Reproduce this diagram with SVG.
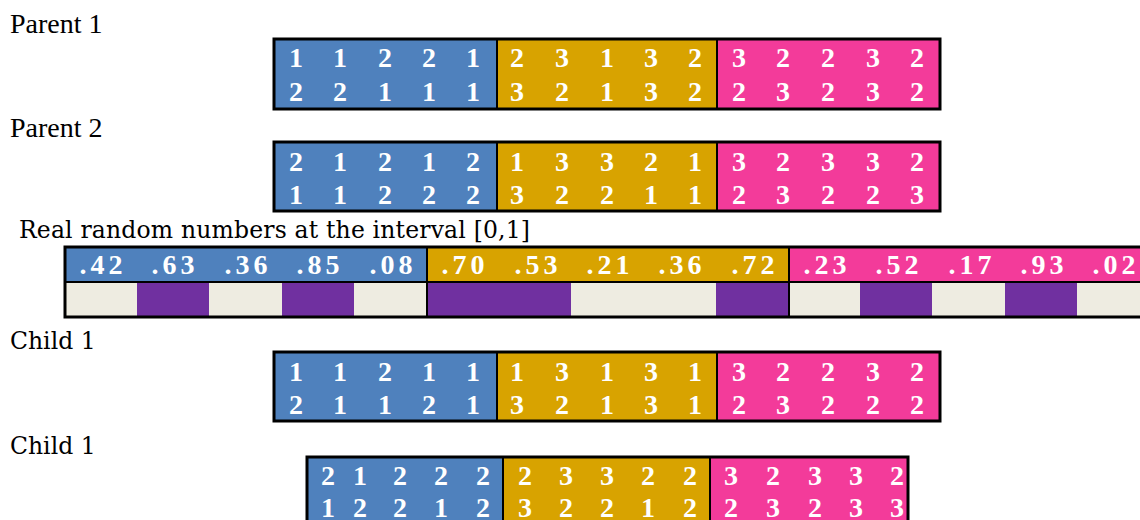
<svg xmlns="http://www.w3.org/2000/svg" width="1140" height="520" viewBox="0 0 1140 520">
<style>
.lbl{font-family:"Liberation Serif","Times New Roman",serif;font-size:28px;fill:#000}
.lbl2{font-family:"DejaVu Serif","Liberation Serif",serif;font-size:23.5px;fill:#000}
.d{font-family:"Liberation Serif","Times New Roman",serif;font-weight:bold;font-size:28px;fill:#fff;text-anchor:middle}
.r{font-family:"Liberation Serif","Times New Roman",serif;font-weight:bold;font-size:28px;fill:#fff;text-anchor:middle;letter-spacing:4px}
.blue{fill:#4F81BD}
.gold{fill:#D8A300}
.pink{fill:#F33B9A}
.cream{fill:#EEECE1}
.purple{fill:#7030A0}
.frame{fill:none;stroke:#000;stroke-width:3}
.dv{stroke:#000;stroke-width:2}
</style>
<g id="labels">
<text class="lbl" x="10" y="33">Parent 1</text>
<text class="lbl" x="10" y="137">Parent 2</text>
<text class="lbl2" x="19" y="238" textLength="511">Real random numbers at the interval [0,1]</text>
<text class="lbl2" x="10" y="349">Child 1</text>
<text class="lbl2" x="10" y="454">Child 1</text>
</g>
<g id="parent1">
<rect class="blue" x="274" y="39" width="223" height="70"/>
<rect class="gold" x="497" y="39" width="220" height="70"/>
<rect class="pink" x="717" y="39" width="223" height="70"/>
<line class="dv" x1="497" y1="39" x2="497" y2="109"/>
<line class="dv" x1="717" y1="39" x2="717" y2="109"/>
<rect class="frame" x="274" y="39" width="666" height="70"/>
<text class="d" x="296 340 385 429 473 517 562 607 651 695 739 783 828 873 917" y="67">112212313232232</text>
<text class="d" x="296 340 385 429 473 517 562 607 651 695 739 783 828 873 917" y="101">221113213223232</text>
</g>
<g id="parent2">
<rect class="blue" x="274" y="142" width="223" height="69"/>
<rect class="gold" x="497" y="142" width="220" height="69"/>
<rect class="pink" x="717" y="142" width="223" height="69"/>
<line class="dv" x1="497" y1="142" x2="497" y2="211"/>
<line class="dv" x1="717" y1="142" x2="717" y2="211"/>
<rect class="frame" x="274" y="142" width="666" height="69"/>
<text class="d" x="296 340 385 429 473 517 562 607 651 695 739 783 828 873 917" y="171">212121332132332</text>
<text class="d" x="296 340 385 429 473 517 562 607 651 695 739 783 828 873 917" y="204">112223221123223</text>
</g>
<g id="random">
<rect class="blue" x="65" y="247" width="362" height="35"/>
<rect class="gold" x="427" y="247" width="362" height="35"/>
<rect class="pink" x="789" y="247" width="362" height="35"/>
<rect class="cream" x="65" y="282" width="1086" height="35"/>
<rect class="purple" x="137" y="282" width="72" height="35"/>
<rect class="purple" x="282" y="282" width="72" height="35"/>
<rect class="purple" x="427" y="282" width="144" height="35"/>
<rect class="purple" x="716" y="282" width="73" height="35"/>
<rect class="purple" x="860" y="282" width="72" height="35"/>
<rect class="purple" x="1005" y="282" width="72" height="35"/>
<line class="dv" x1="65" y1="282" x2="1151" y2="282"/>
<line class="dv" x1="427" y1="247" x2="427" y2="317"/>
<line class="dv" x1="789" y1="247" x2="789" y2="317"/>
<rect class="frame" x="65" y="247" width="1086" height="70"/>
<text class="r" y="274"><tspan x="103">.42</tspan><tspan x="175">.63</tspan><tspan x="248">.36</tspan><tspan x="320">.85</tspan><tspan x="393">.08</tspan><tspan x="465">.70</tspan><tspan x="538">.53</tspan><tspan x="610">.21</tspan><tspan x="682">.36</tspan><tspan x="755">.72</tspan><tspan x="827">.23</tspan><tspan x="899">.52</tspan><tspan x="972">.17</tspan><tspan x="1044">.93</tspan><tspan x="1116">.02</tspan></text>
</g>
<g id="child1">
<rect class="blue" x="274" y="352" width="223" height="69"/>
<rect class="gold" x="497" y="352" width="220" height="69"/>
<rect class="pink" x="717" y="352" width="223" height="69"/>
<line class="dv" x1="497" y1="352" x2="497" y2="421"/>
<line class="dv" x1="717" y1="352" x2="717" y2="421"/>
<rect class="frame" x="274" y="352" width="666" height="69"/>
<text class="d" x="296 340 385 429 473 517 562 607 651 695 739 783 828 873 917" y="381">112111313132232</text>
<text class="d" x="296 340 385 429 473 517 562 607 651 695 739 783 828 873 917" y="414">211213213123222</text>
</g>
<g id="child2">
<rect class="blue" x="307" y="457" width="196" height="70"/>
<rect class="gold" x="503" y="457" width="207" height="70"/>
<rect class="pink" x="710" y="457" width="198" height="70"/>
<line class="dv" x1="503" y1="457" x2="503" y2="527"/>
<line class="dv" x1="710" y1="457" x2="710" y2="527"/>
<rect class="frame" x="307" y="457" width="601" height="70"/>
<text class="d" x="328 360 400 441 483 525 566 607 648 690 731 773 815 856 897" y="485">212222332232332</text>
<text class="d" x="328 360 400 441 483 525 566 607 648 690 731 773 815 856 897" y="517">122123221223233</text>
</g>
</svg>
